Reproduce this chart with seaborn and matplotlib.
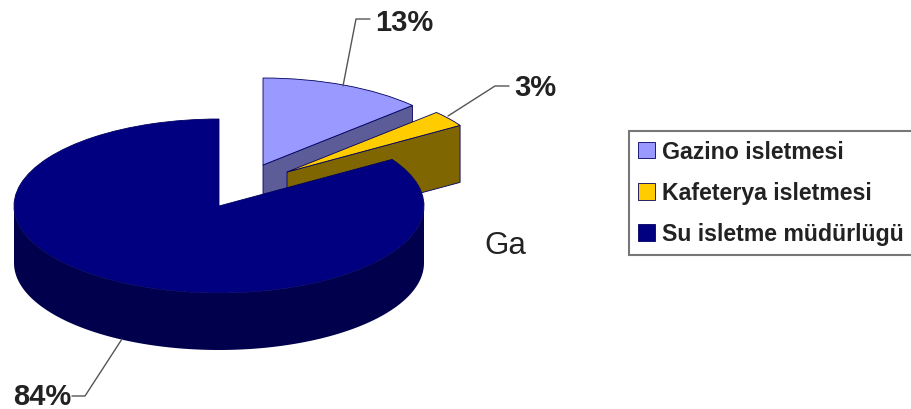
import numpy as np
import seaborn as sns
import matplotlib.pyplot as plt

labels = ["Gazino isletmesi", "Kafeterya isletmesi", "Su isletme müdürlügü"]
shares = [13, 3, 84]
share_text = ["13%", "3%", "84%"]

top_colors = ["#9999FF", "#FFCC00", "#000080"]
side_colors = ["#5C5C99", "#806600", "#00004D"]

W, H = 911, 410
# pie geometry in pixels of the picture
CX, CY, RX, RY, DEPTH = 219, 207, 205, 87, 57
shifts = [(44, 41), (68, 34), (0, 0)]


def frac(x, y):
    return x / W, 1 - y / H


sns.set_theme(style="white", font="Liberation Sans")
fig, ax = plt.subplots(figsize=(W / 100, H / 100), dpi=100)
ax.set_position([0, 0, 1, 1])

wedges, _ = ax.pie(shares, colors=top_colors, startangle=90, counterclock=False,
                   wedgeprops={"edgecolor": "#000060", "linewidth": 0.6})
ax.set_aspect("auto")
ax.set_xlim(-CX / RX, (W - CX) / RX)
ax.set_ylim((CY - H) / RY, CY / RY)
ax.axis("off")

# slice borders, clockwise from the top
angles = 90 - np.cumsum([0] + shares) * 3.6
depth = DEPTH / RY

for i, (wedge, shift) in enumerate(zip(wedges, shifts)):
    dx, dy = shift[0] / RX, shift[1] / RY
    wedge.set_center((dx, dy))
    wedge.set_zorder(2 * i + 2)
    if i < 2:
        # straight cut face, seen from the front
        a = np.radians(angles[i + 1])
        xs = [dx, dx + np.cos(a), dx + np.cos(a), dx]
        ys = [dy, dy + np.sin(a), dy + np.sin(a) - depth, dy - depth]
        ax.fill(xs, ys, color=side_colors[i], ec="#000060", lw=0.6, zorder=2 * i + 1)
    else:
        # round front rim of the big slice
        t = np.radians(np.linspace(180, 360, 120))
        xs = np.r_[np.cos(t), np.cos(t[::-1])]
        ys = np.r_[np.sin(t), np.sin(t[::-1]) - depth]
        ax.fill(xs, ys, color=side_colors[i], lw=0, zorder=2 * i + 1)

# leader lines and percent labels
leaders = [[(343, 87), (356, 20), (370, 20)],
           [(448, 117), (495, 87), (509, 87)],
           [(122, 340), (85, 397), (72, 397)]]
label_pos = [(375, 23), (514, 88), (13, 397)]
for pts, pos, txt in zip(leaders, label_pos, share_text):
    fx, fy = zip(*[frac(*p) for p in pts])
    ax.plot(fx, fy, color="#555555", lw=1, transform=ax.transAxes, zorder=10)
    ax.text(*frac(*pos), txt, transform=ax.transAxes, fontsize=21, fontweight="bold",
            color="#222222", ha="left", va="center", zorder=11)

ax.text(*frac(505, 246), "Ga", transform=ax.transAxes, fontsize=22.5,
        color="#222222", ha="center", va="center")

leg = ax.legend(wedges, labels, loc="upper left", bbox_to_anchor=frac(629, 132),
                borderaxespad=0, fancybox=False, framealpha=1, edgecolor="#777777",
                prop={"size": 16.7, "weight": "bold"}, labelcolor="#222222",
                handlelength=0.72, handleheight=0.72, handletextpad=0.32,
                labelspacing=0.78, borderpad=0.4)
leg.get_frame().set_linewidth(1.5)
leg.set_zorder(20)

fig.savefig("out.png", dpi=100)
